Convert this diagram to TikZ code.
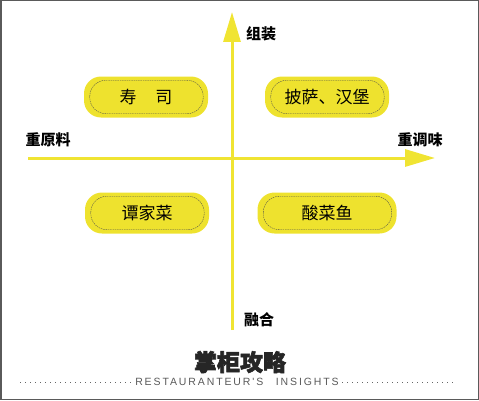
\documentclass[tikz,border=0pt]{standalone}
\usepackage{fontspec}
\newfontfamily\cjk{Noto Sans CJK SC}
\newfontfamily\cjktitle[BoldFeatures={FakeBold=2.5}]{Noto Sans CJK SC}
\newfontfamily\subfont[LetterSpace=18]{Liberation Sans}
\usetikzlibrary{arrows.meta}
\definecolor{axisyellow}{RGB}{240,228,50}
\definecolor{pillyellow}{RGB}{238,226,46}
\definecolor{framegray}{RGB}{90,90,90}
\begin{document}
\begin{tikzpicture}[x=1pt, y=1pt,
    pill/.style={rectangle, fill=pillyellow, rounded corners=17pt, minimum height=41pt, inner sep=0pt, font=\cjk\fontsize{17}{17}\selectfont},
    pillline/.style={draw=black!70, line width=0.35pt, dash pattern=on 1.5pt off 0.8pt, rounded corners=16pt},
    axis/.style={draw=axisyellow, line width=3pt, -{Triangle[length=30pt, width=17pt]}},
    axislabel/.style={font=\cjk\bfseries\fontsize{15}{15}\selectfont},
    dots/.style={draw=black!60, line width=0.8pt, dash pattern=on 0.8pt off 4.2pt}
]
    \useasboundingbox (0,0) rectangle (479,400);
    % Frame
    \draw[framegray, line width=1.5pt] (0.75,0.75) rectangle (478.25,399.25);

    % Axes
    \coordinate (ybot) at (232,70);
    \coordinate (ytop) at (232,388);
    \coordinate (xleft) at (28,242);
    \coordinate (xright) at (435,242);
    \draw[axis] (ybot) -- (ytop);
    \draw[axis] (xleft) -- (xright);

    % Axis labels
    \node[axislabel] (assemble) at (261,366) {组装};
    \node[axislabel] (fusion) at (259,80) {融合};
    \node[axislabel] (rawmat) at (48,260) {重原料};
    \node[axislabel] (season) at (420,260) {重调味};

    % Quadrant pills
    \node[pill, minimum width=124pt] (sushi) at (146,303) {寿\hspace{1.1em}司};
    \node[pill, minimum width=124pt] (pizza) at (327,303) {披萨、汉堡};
    \node[pill, minimum width=124pt] (tan) at (147,187) {谭家菜};
    \node[pill, minimum width=139pt] (fish) at (327,187) {酸菜鱼};
    \foreach \p in {sushi, pizza, tan, fish}
        \draw[pillline] ([xshift=6pt, yshift=-4pt]\p.north west) rectangle ([xshift=-5pt, yshift=4pt]\p.south east);

    % Title and subtitle
    \node[font=\cjktitle\bfseries\fontsize{23}{23}\selectfont, text=black!85] (title) at (240,38) {掌柜攻略};
    \node[font=\subfont\fontsize{10.5}{10.5}\selectfont, text=black!65] (sub) at (237,18) {RESTAURANTEUR'S\hspace{1.2em}INSIGHTS};
    \coordinate (dl) at (20,18);
    \coordinate (dr) at (456,18);
    \draw[dots] (dl) -- (sub.west);
    \draw[dots] (sub.east) -- (dr);
\end{tikzpicture}
\end{document}
